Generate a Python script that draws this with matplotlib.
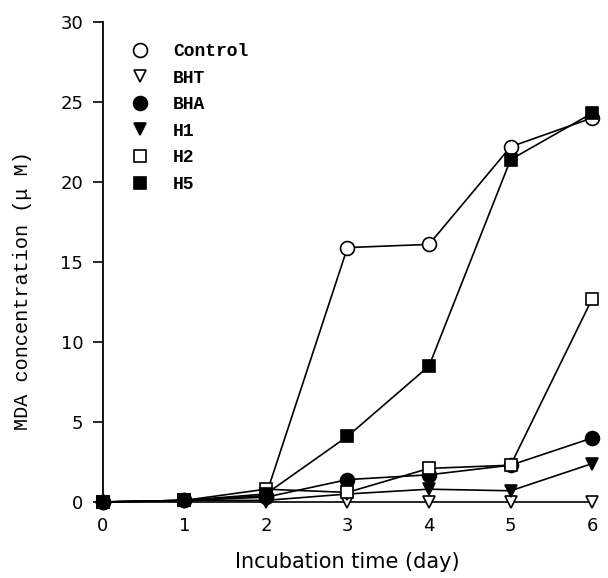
import matplotlib.pyplot as plt
from matplotlib.lines import Line2D

days = [0, 1, 2, 3, 4, 5, 6]
control = [0, 0.1, 0.4, 15.9, 16.1, 22.2, 24.0]
bht = [0, 0, 0, 0, 0, 0, 0]
bha = [0, 0.1, 0.3, 1.4, 1.7, 2.3, 4.0]
h1 = [0, 0.1, 0.1, 0.5, 0.8, 0.7, 2.4]
h2 = [0, 0.1, 0.8, 0.6, 2.1, 2.3, 12.7]
h5 = [0, 0.1, 0.5, 4.1, 8.5, 21.4, 24.3]

series = [
    ("Control", control, "o", "white", 10),
    ("BHT", bht, "v", "white", 9),
    ("BHA", bha, "o", "black", 10),
    ("H1", h1, "v", "black", 9),
    ("H2", h2, "s", "white", 8),
    ("H5", h5, "s", "black", 8),
]

fig = plt.figure(figsize=(6.08, 5.78), dpi=100)
ax = fig.add_axes([0.169, 0.1315, 0.805, 0.8305])

handles = []
for name, vals, mk, fc, ms in series:
    ax.plot(days, vals, color="black", lw=1.2, marker=mk, markersize=ms,
            markerfacecolor=fc, markeredgecolor="black", markeredgewidth=1.2,
            clip_on=False, zorder=3)
    handles.append(Line2D([], [], ls="none", marker=mk, markersize=ms,
                          markerfacecolor=fc, markeredgecolor="black",
                          markeredgewidth=1.2, label=name))

ax.set_xlim(0, 6)
ax.set_ylim(0, 30)
ax.set_xticks(days)
ax.set_yticks([0, 5, 10, 15, 20, 25, 30])
for s in ["top", "right", "bottom"]:
    ax.spines[s].set_visible(False)
ax.spines["left"].set_linewidth(1.3)
ax.tick_params(axis="x", length=0, pad=11, labelsize=13)
ax.tick_params(axis="y", length=7, width=1.2, direction="out", pad=7, labelsize=13)

ax.set_xlabel("Incubation time (day)", fontsize=15, labelpad=12)
ax.set_ylabel("MDA concentration (\u03bc M)", family="Liberation Mono",
              fontsize=14.5)
ax.yaxis.set_label_coords(-0.145, 0.44)

leg = ax.legend(handles=handles, loc="upper left", bbox_to_anchor=(0.025, 0.99),
                frameon=False, handlelength=1.0, handletextpad=1.3,
                labelspacing=0.53,
                prop={"family": "Liberation Mono", "size": 13, "weight": "bold"})

fig.savefig("out.png", dpi=100)
